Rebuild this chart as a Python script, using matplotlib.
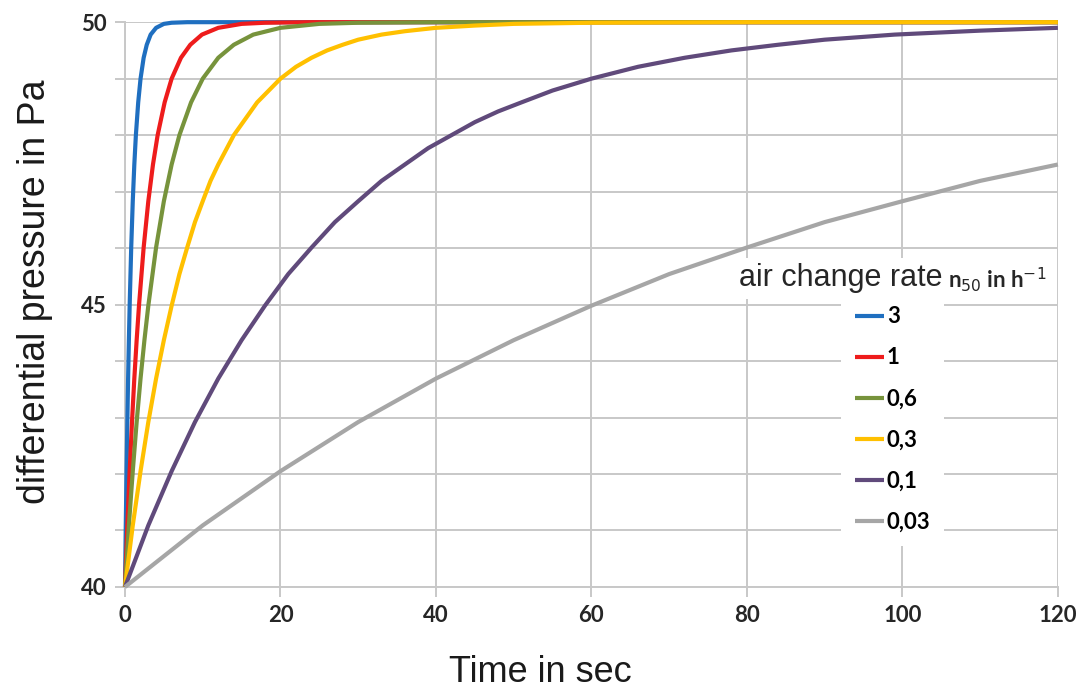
import matplotlib.pyplot as plt

# values (time in s, pressure in Pa)
t_3 = [0, 0.1, 0.2, 0.3, 0.4, 0.5, 0.6, 0.8, 1.0, 1.2, 1.4, 1.7, 2.0, 2.4, 2.8, 3.3, 4, 5, 6, 8, 120]
p_3 = [40, 41.09, 42.05, 42.92, 43.69, 44.37, 44.98, 46.01, 46.83, 47.48, 48.00, 48.58, 49.00,
       49.37, 49.60, 49.78, 49.90, 49.97, 49.99, 50, 50]

t_1 = [0, 0.3, 0.6, 0.9, 1.2, 1.5, 1.8, 2.4, 3.0, 3.6, 4.2, 5.1, 6.0, 7.2, 8.4, 9.9, 12, 15, 18, 24, 120]
p_1 = [40, 41.09, 42.05, 42.92, 43.69, 44.37, 44.98, 46.01, 46.83, 47.48, 48.00, 48.58, 49.00,
       49.37, 49.60, 49.78, 49.90, 49.97, 49.99, 50, 50]

t_06 = [0, 0.5, 1, 1.5, 2, 2.5, 3, 4, 5, 6, 7, 8.5, 10, 12, 14, 16.5, 20, 25, 30, 40, 120]
p_06 = [40, 41.09, 42.05, 42.92, 43.69, 44.37, 44.98, 46.01, 46.83, 47.48, 48.00, 48.58, 49.00,
        49.37, 49.60, 49.78, 49.90, 49.97, 49.99, 50, 50]

t_03 = [0, 1, 2, 3, 4, 5, 6, 7, 8, 9, 10, 11, 12, 14, 17, 20, 22, 24, 26, 28, 30, 33, 36, 40,
        45, 50, 60, 80, 120]
p_03 = [40, 41.09, 42.05, 42.92, 43.69, 44.37, 44.98, 45.54, 46.01, 46.46, 46.83, 47.19, 47.48,
        48.00, 48.58, 49.00, 49.21, 49.37, 49.50, 49.60, 49.69, 49.78, 49.84, 49.90, 49.94, 49.97,
        49.99, 50, 50]

t_01 = [0, 3, 6, 9, 12, 15, 18, 21, 24, 27, 30, 33, 36, 39, 42, 45, 48, 51, 55, 60, 66, 72, 78,
        84, 90, 99, 110, 120]
p_01 = [40, 41.09, 42.05, 42.92, 43.69, 44.37, 44.98, 45.54, 46.01, 46.46, 46.83, 47.19, 47.48,
        47.77, 48.00, 48.23, 48.42, 48.58, 48.79, 49.00, 49.21, 49.37, 49.50, 49.60, 49.69, 49.78,
        49.85, 49.90]

t_003 = [0, 10, 20, 30, 40, 50, 60, 70, 80, 90, 100, 110, 120]
p_003 = [40, 41.09, 42.05, 42.92, 43.69, 44.37, 44.98, 45.54, 46.01, 46.46, 46.83, 47.19, 47.48]

labels = ["3", "1", "0,6", "0,3", "0,1", "0,03"]
colors = ["#1f6fc0", "#ee1c1c", "#77933c", "#ffc000", "#604a7b", "#a6a6a6"]

x_ticks = [0, 20, 40, 60, 80, 100, 120]
y_ticks = list(range(40, 51))
y_ticklabels = ["40", "", "", "", "", "45", "", "", "", "", "50"]

grid_c = "#c8c8c8"

fig = plt.figure(figsize=(10.85, 6.93), dpi=100)
ax = fig.add_axes([0.1152, 0.153, 0.8598, 0.815])

series = [(t_3, p_3), (t_1, p_1), (t_06, p_06), (t_03, p_03), (t_01, p_01), (t_003, p_003)]
for (t, p), lab, c in zip(series, labels, colors):
    ax.plot(t, p, color=c, lw=3, label=lab, solid_capstyle="butt",
            solid_joinstyle="round", clip_on=False, zorder=3)

ax.set_xlim(0, 120)
ax.set_ylim(40, 50)
ax.set_xticks(x_ticks)
ax.set_yticks(y_ticks)
ax.set_yticklabels(y_ticklabels)
ax.grid(True, color=grid_c, lw=1.4, zorder=0)
ax.set_axisbelow(True)
for s in ["top", "right"]:
    ax.spines[s].set_visible(False)
for s in ["left", "bottom"]:
    ax.spines[s].set_color(grid_c)
    ax.spines[s].set_linewidth(1.4)
ax.tick_params(direction="out", length=7, width=1.4, color=grid_c, pad=6,
               labelsize=16, labelcolor="#262626")
for lbl in ax.get_xticklabels() + ax.get_yticklabels():
    lbl.set_fontfamily("Lato")
    lbl.set_fontweight("bold")

fig.text(0.032, 0.579, "differential pressure in Pa", rotation=90, ha="center", va="center",
         fontsize=27, family="Liberation Sans", color="#1a1a1a")
fig.text(0.498, 0.03, "Time in sec", ha="center", va="center",
         fontsize=26, family="Liberation Sans", color="#1a1a1a")

leg = ax.legend(loc="upper left", bbox_to_anchor=(0.756, 0.54), frameon=True,
                facecolor="white", edgecolor="none", framealpha=1, fancybox=False,
                handlelength=1.3, handletextpad=0.15, labelspacing=0.9,
                borderpad=0.6, prop={"family": "Lato", "weight": "bold", "size": 16})
for h in leg.get_lines():
    h.set_linewidth(3)
leg.set_zorder(5)

ax.text(0.876, 0.547, "air change rate", transform=ax.transAxes, ha="right", va="center",
        fontsize=22, family="Liberation Sans", color="#262626", zorder=6,
        bbox=dict(facecolor="white", edgecolor="none", pad=4))
ax.text(0.882, 0.544, r"n$_{50}$ in h$^{-1}$", transform=ax.transAxes, ha="left", va="center",
        fontsize=16, family="Lato", weight="bold", color="#262626", zorder=6,
        bbox=dict(facecolor="white", edgecolor="none", pad=4))

fig.savefig("out.png", dpi=100)
